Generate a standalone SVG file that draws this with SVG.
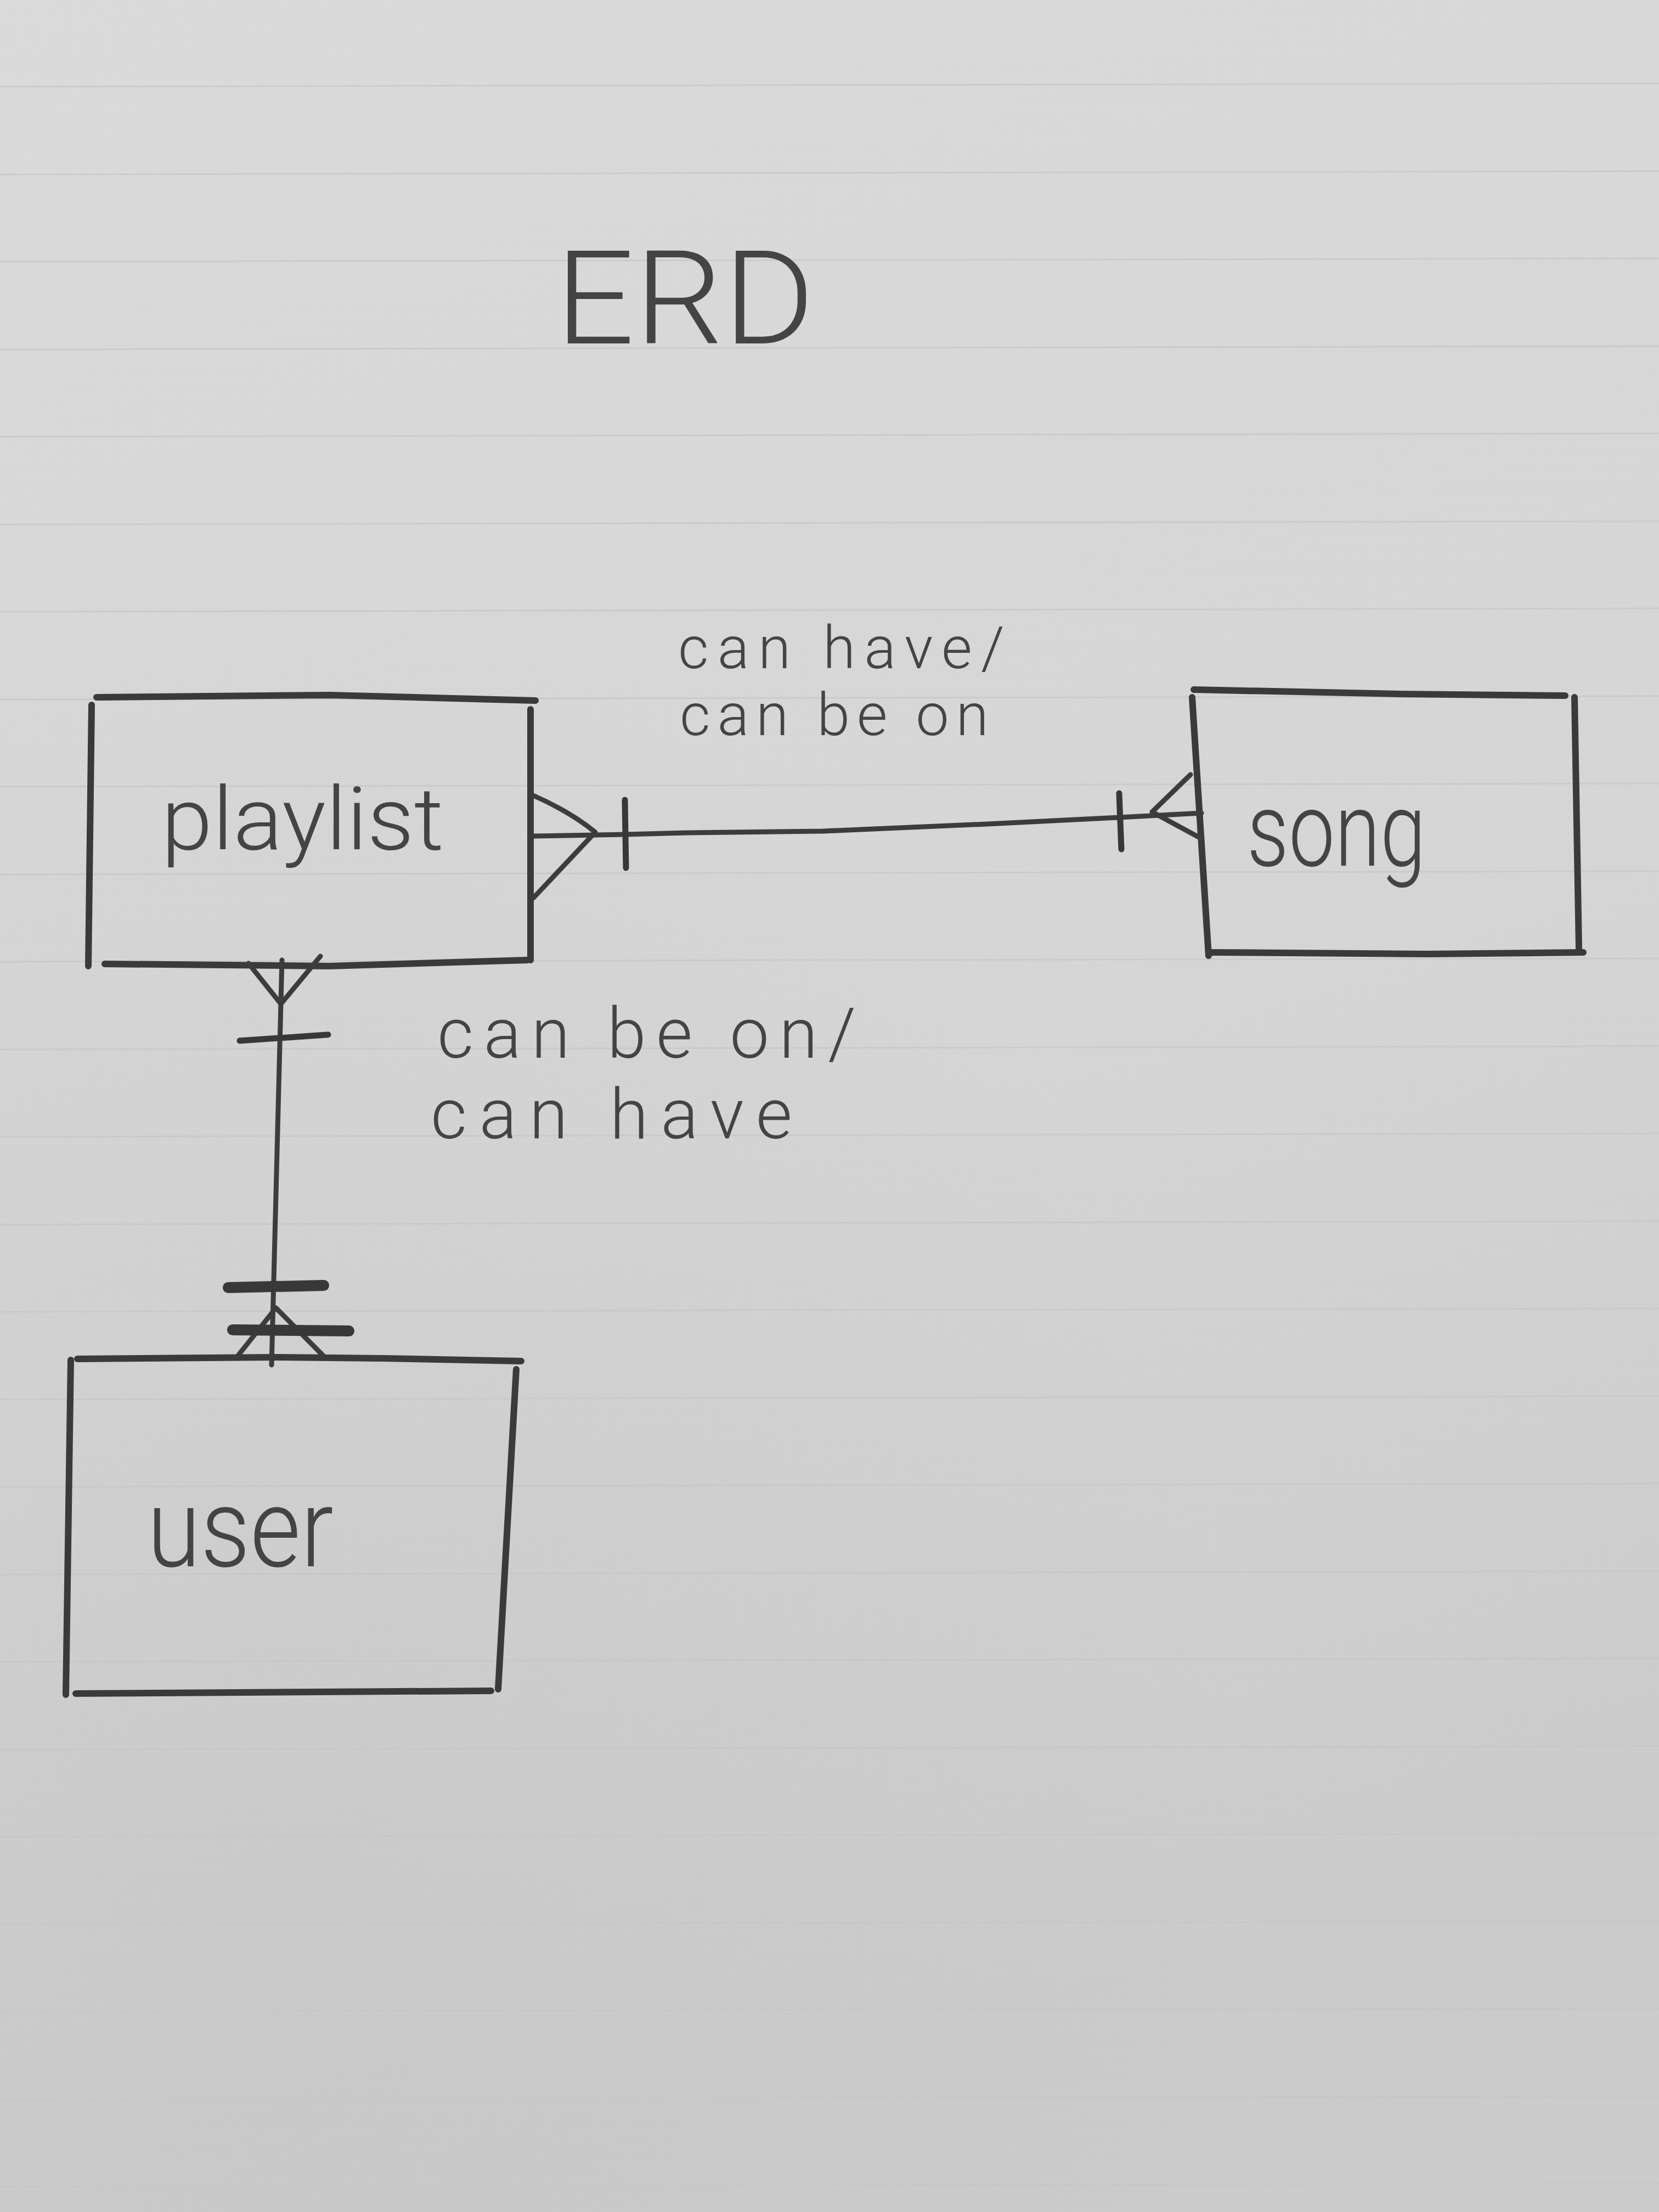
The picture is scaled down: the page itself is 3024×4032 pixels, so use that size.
<svg xmlns="http://www.w3.org/2000/svg" width="3024" height="4032" viewBox="0 0 3024 4032">
<defs>
<linearGradient id="paper" x1="0" y1="0" x2="0.25" y2="1">
<stop offset="0" stop-color="#dadada"/>
<stop offset="0.6" stop-color="#d5d5d5"/>
<stop offset="1" stop-color="#cbcbcb"/>
</linearGradient>
<radialGradient id="shade" cx="0.15" cy="0.85" r="0.6">
<stop offset="0" stop-color="#bdbdbd" stop-opacity="0.3"/>
<stop offset="1" stop-color="#bdbdbd" stop-opacity="0"/>
</radialGradient>
</defs>
<style>
.box{fill:none;stroke:#3a3a3a;stroke-width:12;stroke-linecap:round;stroke-linejoin:round}
.con{fill:none;stroke:#3c3c3c;stroke-width:9;stroke-linecap:round;stroke-linejoin:round}
.tick{fill:none;stroke:#383838;stroke-width:11;stroke-linecap:round}
.bold{stroke-width:20}
.rule{stroke:#c6c6c6;stroke-width:3;fill:none;opacity:0.7}
.lbl{font-family:Roboto,"Liberation Sans","DejaVu Sans",sans-serif;font-weight:300;fill:#444444}
</style>
<rect width="3024" height="4032" fill="url(#paper)"/>
<rect width="3024" height="4032" fill="url(#shade)"/>
<g id="ruled-lines">
<path class="rule" d="M0,158 L3024,152"/>
<path class="rule" d="M0,318 L3024,312"/>
<path class="rule" d="M0,477 L3024,471"/>
<path class="rule" d="M0,637 L3024,631"/>
<path class="rule" d="M0,796 L3024,790"/>
<path class="rule" d="M0,956 L3024,950"/>
<path class="rule" d="M0,1115 L3024,1109"/>
<path class="rule" d="M0,1275 L3024,1269"/>
<path class="rule" d="M0,1434 L3024,1428"/>
<path class="rule" d="M0,1594 L3024,1588"/>
<path class="rule" d="M0,1753 L3024,1747"/>
<path class="rule" d="M0,1913 L3024,1907"/>
<path class="rule" d="M0,2072 L3024,2066"/>
<path class="rule" d="M0,2232 L3024,2226"/>
<path class="rule" d="M0,2391 L3024,2385"/>
<path class="rule" d="M0,2551 L3024,2545"/>
<path class="rule" d="M0,2710 L3024,2704"/>
<path class="rule" d="M0,2870 L3024,2864"/>
<path class="rule" d="M0,3029 L3024,3023"/>
<path class="rule" d="M0,3189 L3024,3183"/>
<path class="rule" d="M0,3348 L3024,3342"/>
<path class="rule" d="M0,3508 L3024,3502"/>
<path class="rule" d="M0,3667 L3024,3661"/>
<path class="rule" d="M0,3827 L3024,3821"/>
<path class="rule" d="M0,3986 L3024,3980"/>
</g>
<g id="title">
<text class="lbl" x="1012" y="626" font-size="237" textLength="473" lengthAdjust="spacingAndGlyphs">ERD</text>
</g>
<g id="node-playlist">
<path class="box" d="M176,1271 L600,1267 L976,1277"/>
<path class="box" d="M167,1285 L161,1761"/>
<path class="box" d="M967,1293 L967,1750"/>
<path class="box" d="M191,1757 L600,1761 L961,1750"/>
<text class="lbl" x="294" y="1548" font-size="160" textLength="515" lengthAdjust="spacingAndGlyphs">playlist</text>
</g>
<g id="node-song">
<path class="box" d="M2176,1257 L2550,1265 L2853,1268"/>
<path class="box" d="M2173,1271 L2203,1742"/>
<path class="box" d="M2870,1271 L2878,1730"/>
<path class="box" d="M2206,1736 L2600,1739 L2886,1736"/>
<text class="lbl" x="2273" y="1578" font-size="190" textLength="326" lengthAdjust="spacingAndGlyphs">song</text>
</g>
<g id="node-user">
<path class="box" d="M141,2477 L500,2474 L700,2476 L950,2481"/>
<path class="box" d="M129,2479 L120,3089"/>
<path class="box" d="M941,2496 L908,3079"/>
<path class="box" d="M138,3087 L895,3082"/>
<text class="lbl" x="268" y="2855" font-size="200" textLength="340" lengthAdjust="spacingAndGlyphs">user</text>
</g>
<g id="connectors">
<g id="playlist-song">
<path class="con" d="M972,1524 L1140,1521 L1250,1518 L1500,1515 L1800,1502 L2040,1490 L2190,1482"/>
<path class="con" d="M972,1450 Q1040,1480 1085,1517 L972,1637"/>
<path class="tick" d="M1139,1458 L1141,1582"/>
<path class="tick" d="M2040,1446 L2044,1548"/>
<path class="con" d="M2170,1412 L2100,1480 L2187,1527"/>
</g>
<g id="playlist-user">
<path class="con" d="M514,1750 L505,2100 L495,2488"/>
<path class="con" d="M453,1756 L512,1830 L584,1743"/>
<path class="tick" d="M437,1897 L598,1886"/>
<path class="tick bold" d="M416,2347 L590,2343"/>
<path class="con" d="M433,2472 L503,2384 L590,2472"/>
<path class="tick bold" d="M424,2424 L636,2426"/>
</g>
</g>
<g id="labels">
<text class="lbl" x="1236" y="1218" font-size="108" textLength="595" lengthAdjust="spacing">can have/</text>
<text class="lbl" x="1239" y="1340" font-size="108" textLength="563" lengthAdjust="spacing">can be on</text>
<text class="lbl" x="797" y="1928" font-size="128" textLength="763" lengthAdjust="spacing">can be on/</text>
<text class="lbl" x="785" y="2075" font-size="128" textLength="659" lengthAdjust="spacing">can have</text>
</g>
</svg>
